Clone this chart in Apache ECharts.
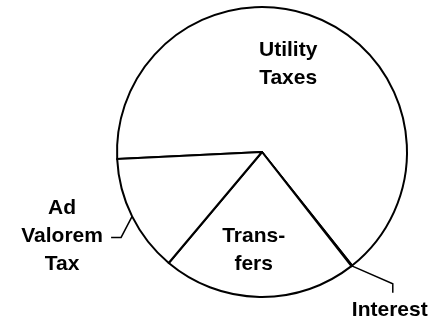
<!DOCTYPE html>
<html>
<head>
<meta charset="utf-8">
<script src="https://cdn.jsdelivr.net/npm/echarts@6/dist/echarts.min.js"></script>
<style>
html, body { margin: 0; padding: 0; background: #fff; }
#main { width: 442px; height: 320px; }
</style>
</head>
<body>
<div id="main"></div>
<script>
var myChart = echarts.init(document.getElementById('main'));

// slices, clockwise starting from the left edge
var categories = ['Utility Taxes', 'Interest', 'Transfers', 'Ad Valorem Tax'];
var values = [65.1, 0.1, 21.7, 13.1];
var labelTexts = ['Utility\nTaxes', 'Interest', 'Trans-\nfers', 'Ad\nValorem\nTax'];

var pieData = categories.map(function (name, i) {
    return {
        name: name,
        value: values[i],
        label: { formatter: labelTexts[i], position: (i === 0 || i === 2) ? 'inside' : 'outside' }
    };
});

option = {
    animation: false,
    series: [
        {
            type: 'pie',
            center: [262, 152],
            radius: 145,
            startAngle: 182.8,
            clockwise: true,
            avoidLabelOverlap: false,
            itemStyle: {
                color: '#fff',
                borderColor: '#000',
                borderWidth: 2
            },
            label: {
                color: '#000',
                fontFamily: 'Liberation Sans',
                fontWeight: 'bold',
                fontSize: 21,
                lineHeight: 28
            },
            labelLine: {
                show: true,
                lineStyle: { color: '#000', width: 1.5 }
            },
            labelLayout: function (params) {
                var i = params.dataIndex;
                var pts = params.labelLinePoints;
                if (i === 0) return { dx: -5, dy: -19 };
                if (i === 2) return { dx: -7, dy: 23 };
                if (!pts) return {};
                var p0 = pts[0];
                if (i === 1) {
                    var p1 = [p0[0] + 41, p0[1] + 18];
                    var p2 = [p1[0], p1[1] + 9];
                    return {
                        x: p2[0] - 3, y: p2[1] + 17,
                        align: 'center', verticalAlign: 'middle',
                        labelLinePoints: [p0, p1, p2]
                    };
                }
                var q1 = [p0[0] - 11, p0[1] + 21];
                var q2 = [q1[0] - 10, q1[1]];
                return {
                    x: q2[0] - 49, y: q2[1] - 1,
                    align: 'center', verticalAlign: 'middle',
                    labelLinePoints: [p0, q1, q2]
                };
            },
            data: pieData
        }
    ]
};

myChart.setOption(option);
</script>
</body>
</html>
